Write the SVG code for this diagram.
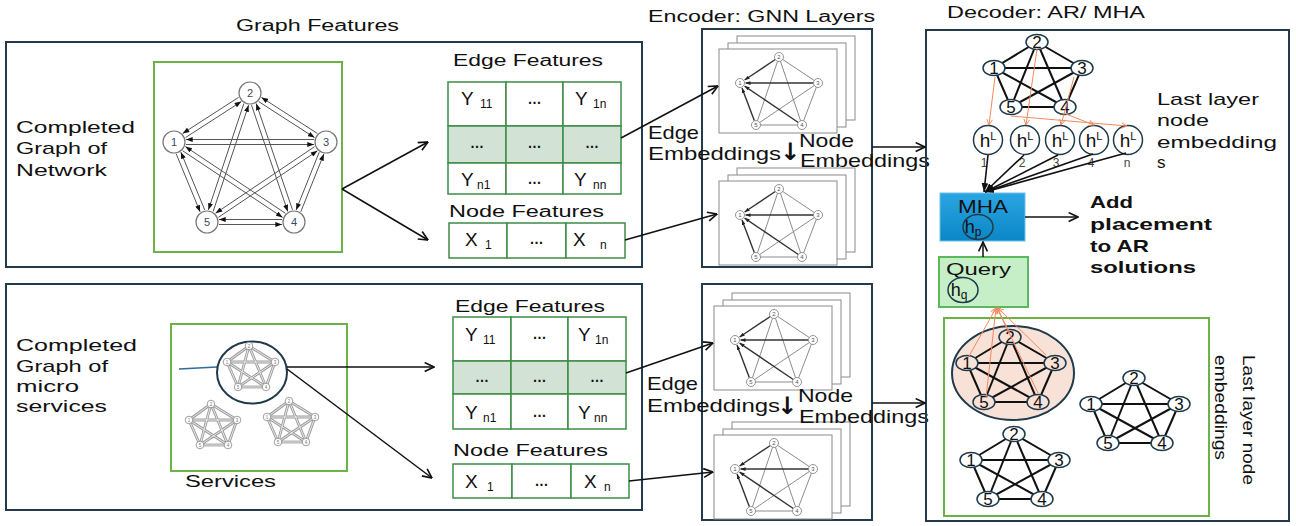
<svg xmlns="http://www.w3.org/2000/svg" width="1296" height="526" viewBox="0 0 1296 526">
<style>
text{font-family:"Liberation Sans",Arial,sans-serif;fill:#111}
.t16{font-size:16px}
.t17{font-size:17px}
.t18{font-size:18.5px}
.b17{font-size:17px;font-weight:bold}
.cell{font-size:19px}
.sub{font-size:12px}
.dots{font-size:14px;font-weight:bold}
.num{font-size:11px;fill:#3b4a68}
.dn{font-size:17px;text-anchor:middle;fill:#111}
.pn{font-size:6px;text-anchor:middle;fill:#555}
.sn{font-size:4.5px;text-anchor:middle;fill:#777}
.hs{font-size:12px;fill:#444;text-anchor:middle}
.darr{font-family:"DejaVu Sans",sans-serif;font-size:24px;font-weight:bold;fill:#111}
.panel{fill:none;stroke:#223a4b;stroke-width:2}
.gbox{fill:none;stroke:#6ab344;stroke-width:2}
.tc{fill:#fff;stroke:#3d8c45;stroke-width:1.5}
.ts{fill:#d2e3d5;stroke:#3d8c45;stroke-width:1.5}
.pg{fill:#fff;stroke:#8a8a8a;stroke-width:1}
.arr{fill:none;stroke:#111;stroke-width:1.5;marker-end:url(#ah)}
.ge{stroke:#555;stroke-width:1;marker-end:url(#ahs)}
.og{fill:none;stroke:#f08a5d;stroke-width:1;marker-end:url(#aho)}
.blk{stroke:#111;stroke-width:1.6;marker-end:url(#ahf)}
.hc{fill:#fff;stroke:#1f3a4a;stroke-width:1.5}
</style>
<defs>
<marker id="ah" viewBox="0 0 10 10" refX="9.5" refY="5" markerWidth="11" markerHeight="11" markerUnits="userSpaceOnUse" orient="auto"><path d="M1,1 L9.5,5 L1,9" fill="none" stroke="#111" stroke-width="1.5"/></marker>
<marker id="ahs" viewBox="0 0 8 6" refX="8" refY="3" markerWidth="7" markerHeight="5" markerUnits="userSpaceOnUse" orient="auto"><path d="M0,0 L8,3 L0,6z" fill="#111"/></marker>
<marker id="ahf" viewBox="0 0 8 6" refX="8" refY="3" markerWidth="9" markerHeight="7" markerUnits="userSpaceOnUse" orient="auto"><path d="M0,0 L8,3 L0,6z" fill="#111"/></marker>
<marker id="ahe" viewBox="0 0 8 6" refX="8" refY="3" markerWidth="5" markerHeight="4" markerUnits="userSpaceOnUse" orient="auto"><path d="M0,0 L8,3 L0,6z" fill="#222"/></marker>
<marker id="aho" viewBox="0 0 10 10" refX="9" refY="5" markerWidth="7" markerHeight="7" markerUnits="userSpaceOnUse" orient="auto"><path d="M1,1 L9,5 L1,9" fill="none" stroke="#f08a5d" stroke-width="1.3"/></marker>
<linearGradient id="mhaG" x1="0" y1="0" x2="0" y2="1"><stop offset="0" stop-color="#2ba6e2"/><stop offset="1" stop-color="#0b86c6"/></linearGradient>

<g id="pg">
<rect x="18" y="-13" width="118" height="84" class="pg"/>
<rect x="9" y="-6" width="118" height="84" class="pg"/>
<rect x="0" y="0" width="118" height="84" class="pg"/>
<g stroke="#8c8c8c" stroke-width="1">
<line x1="60" y1="8" x2="99" y2="34"/><line x1="60" y1="8" x2="83" y2="76"/><line x1="60" y1="8" x2="37" y2="76"/>
<line x1="99" y1="34" x2="83" y2="76"/><line x1="99" y1="34" x2="37" y2="76"/><line x1="37" y1="76" x2="83" y2="76"/>
</g>
<g stroke="#333" stroke-width="1.4" marker-end="url(#ahe)">
<line x1="94.5" y1="34" x2="26.5" y2="34"/><line x1="79.3" y1="73.5" x2="25.6" y2="37.1"/>
<line x1="35.4" y1="71.8" x2="23" y2="39.1"/><line x1="56.3" y1="10.5" x2="25.6" y2="31"/>
</g>
<g fill="#fff" stroke="#888" stroke-width="0.9">
<circle cx="60" cy="8" r="4.5"/><circle cx="21" cy="34" r="4.5"/><circle cx="99" cy="34" r="4.5"/><circle cx="37" cy="76" r="4.5"/><circle cx="83" cy="76" r="4.5"/>
</g>
<text class="pn" x="60" y="10">2</text><text class="pn" x="21" y="36">1</text><text class="pn" x="99" y="36">3</text><text class="pn" x="37" y="78">5</text><text class="pn" x="83" y="78">4</text>
</g>

<g id="sg">
<g stroke="#9c9c9c" stroke-width="2.8">
<line x1="0" y1="0" x2="-22" y2="16"/><line x1="0" y1="0" x2="26" y2="16"/><line x1="0" y1="0" x2="-11" y2="41"/><line x1="0" y1="0" x2="17" y2="41"/>
<line x1="-22" y1="16" x2="26" y2="16"/><line x1="-22" y1="16" x2="-11" y2="41"/><line x1="-22" y1="16" x2="17" y2="41"/>
<line x1="26" y1="16" x2="-11" y2="41"/><line x1="26" y1="16" x2="17" y2="41"/><line x1="-11" y1="41" x2="17" y2="41"/>
</g>
<g stroke="#f2f2f2" stroke-width="0.9">
<line x1="0" y1="0" x2="-22" y2="16"/><line x1="0" y1="0" x2="26" y2="16"/><line x1="0" y1="0" x2="-11" y2="41"/><line x1="0" y1="0" x2="17" y2="41"/>
<line x1="-22" y1="16" x2="26" y2="16"/><line x1="-22" y1="16" x2="-11" y2="41"/><line x1="-22" y1="16" x2="17" y2="41"/>
<line x1="26" y1="16" x2="-11" y2="41"/><line x1="26" y1="16" x2="17" y2="41"/><line x1="-11" y1="41" x2="17" y2="41"/>
</g>
<g fill="#fff" stroke="#888" stroke-width="0.8">
<circle cx="0" cy="0" r="3.8"/><circle cx="-22" cy="16" r="3.8"/><circle cx="26" cy="16" r="3.8"/><circle cx="-11" cy="41" r="3.8"/><circle cx="17" cy="41" r="3.8"/>
</g>
<text class="sn" x="0" y="1.6">2</text><text class="sn" x="-22" y="17.6">1</text><text class="sn" x="26" y="17.6">3</text><text class="sn" x="-11" y="42.6">5</text><text class="sn" x="17" y="42.6">4</text>
</g>

<g id="dg">
<g stroke="#111" stroke-width="2">
<line x1="-43" y1="26" x2="0" y2="0"/><line x1="-43" y1="26" x2="45" y2="26"/><line x1="-43" y1="26" x2="28" y2="65"/><line x1="-43" y1="26" x2="-26" y2="65"/>
<line x1="0" y1="0" x2="45" y2="26"/><line x1="0" y1="0" x2="28" y2="65"/><line x1="0" y1="0" x2="-26" y2="65"/>
<line x1="45" y1="26" x2="28" y2="65"/><line x1="45" y1="26" x2="-26" y2="65"/><line x1="28" y1="65" x2="-26" y2="65"/>
</g>
<g stroke="#1f3a4a" stroke-width="1.5">
<ellipse cx="0" cy="0" rx="11" ry="7.5"/><ellipse cx="-43" cy="26" rx="11" ry="7.5"/><ellipse cx="45" cy="26" rx="11" ry="7.5"/><ellipse cx="-26" cy="65" rx="11" ry="7.5"/><ellipse cx="28" cy="65" rx="11" ry="7.5"/>
</g>
<text class="dn" x="0" y="6">2</text><text class="dn" x="-43" y="32">1</text><text class="dn" x="45" y="32">3</text><text class="dn" x="-26" y="71">5</text><text class="dn" x="28" y="71">4</text>
</g>
</defs>

<rect width="1296" height="526" fill="#fff"/>

<!-- titles -->
<text class="t16" x="236" y="31" textLength="163" lengthAdjust="spacingAndGlyphs">Graph Features</text>
<text class="t16" x="648" y="22" textLength="227" lengthAdjust="spacingAndGlyphs">Encoder: GNN Layers</text>
<text class="t17" x="947" y="18" textLength="198" lengthAdjust="spacingAndGlyphs">Decoder: AR/ MHA</text>

<!-- top-left panel: network graph -->
<g id="network-panel">
<rect class="panel" x="6" y="42" width="636" height="225"/>
<text class="t17" x="16" y="133" textLength="119" lengthAdjust="spacingAndGlyphs">Completed</text>
<text class="t17" x="16" y="154" textLength="91" lengthAdjust="spacingAndGlyphs">Graph of</text>
<text class="t17" x="16" y="176" textLength="91" lengthAdjust="spacingAndGlyphs">Network</text>
</g>
<g id="network-graph">
<rect class="gbox" x="154" y="62" width="188" height="190"/>
<g>
<line class="ge" x1="185.44" y1="137.6" x2="241.28" y2="101.6"/><line class="ge" x1="238.56" y1="97.4" x2="182.72" y2="133.4"/>
<line class="ge" x1="186" y1="144.5" x2="314" y2="144.5"/><line class="ge" x1="314" y1="139.5" x2="186" y2="139.5"/>
<line class="ge" x1="182.6" y1="150.74" x2="282.63" y2="217.42"/><line class="ge" x1="285.4" y1="213.26" x2="185.37" y2="146.58"/>
<line class="ge" x1="176.27" y1="154.05" x2="200.11" y2="211.86"/><line class="ge" x1="204.74" y1="209.95" x2="180.89" y2="152.14"/>
<line class="ge" x1="258.72" y1="101.6" x2="314.56" y2="137.6"/><line class="ge" x1="317.28" y1="133.4" x2="261.44" y2="97.4"/>
<line class="ge" x1="251.51" y1="105.16" x2="287.76" y2="211.45"/><line class="ge" x1="292.49" y1="209.84" x2="256.24" y2="103.55"/>
<line class="ge" x1="243.83" y1="103.59" x2="208.42" y2="209.83"/><line class="ge" x1="213.17" y1="211.41" x2="248.58" y2="105.18"/>
<line class="ge" x1="319.22" y1="152.21" x2="296.14" y2="209.93"/><line class="ge" x1="300.78" y1="211.79" x2="323.86" y2="154.07"/>
<line class="ge" x1="314.65" y1="146.62" x2="215.56" y2="213.23"/><line class="ge" x1="218.35" y1="217.38" x2="317.44" y2="150.77"/>
<line class="ge" x1="282" y1="219.5" x2="219" y2="219.5"/><line class="ge" x1="219" y1="224.5" x2="282" y2="224.5"/>
</g>
<g fill="#fff" stroke="#777" stroke-width="1.2">
<circle cx="250" cy="93" r="11"/><circle cx="174" cy="142" r="11"/><circle cx="326" cy="142" r="11"/><circle cx="207" cy="222" r="11"/><circle cx="294" cy="222" r="11"/>
</g>
<text class="num" x="250" y="97" text-anchor="middle">2</text><text class="num" x="174" y="146" text-anchor="middle">1</text><text class="num" x="326" y="146" text-anchor="middle">3</text><text class="num" x="207" y="226" text-anchor="middle">5</text><text class="num" x="294" y="226" text-anchor="middle">4</text>
</g>

<!-- top tables -->
<g id="edge-features-top">
<text class="t16" x="453" y="66" textLength="150" lengthAdjust="spacingAndGlyphs">Edge Features</text>
<rect class="tc" x="448" y="82" width="58" height="44"/><rect class="tc" x="506" y="82" width="57" height="44"/><rect class="tc" x="563" y="82" width="58" height="44"/>
<rect class="ts" x="448" y="126" width="58" height="37"/><rect class="ts" x="506" y="126" width="57" height="37"/><rect class="ts" x="563" y="126" width="58" height="37"/>
<rect class="tc" x="448" y="163" width="58" height="31"/><rect class="tc" x="506" y="163" width="57" height="31"/><rect class="tc" x="563" y="163" width="58" height="31"/>
<text class="cell" y="105"><tspan x="461">Y</tspan><tspan class="sub" x="480" dy="3">11</tspan></text>
<text class="dots" x="534.5" y="104" text-anchor="middle">…</text>
<text class="cell" y="105"><tspan x="575">Y</tspan><tspan class="sub" x="593" dy="3">1n</tspan></text>
<text class="dots" x="477" y="148" text-anchor="middle">…</text><text class="dots" x="534.5" y="148" text-anchor="middle">…</text><text class="dots" x="592" y="148" text-anchor="middle">…</text>
<text class="cell" y="186"><tspan x="461">Y</tspan><tspan class="sub" x="477" dy="3">n1</tspan></text>
<text class="dots" x="534.5" y="184" text-anchor="middle">…</text>
<text class="cell" y="186"><tspan x="574">Y</tspan><tspan class="sub" x="593" dy="3">nn</tspan></text>
</g>
<g id="node-features-top">
<text class="t16" x="449" y="217" textLength="155" lengthAdjust="spacingAndGlyphs">Node Features</text>
<rect class="tc" x="449" y="223" width="58" height="35"/><rect class="tc" x="507" y="223" width="59" height="35"/><rect class="tc" x="566" y="223" width="59" height="35"/>
<text class="cell" y="246"><tspan x="465">X</tspan><tspan class="sub" x="485" dy="3">1</tspan></text>
<text class="dots" x="536.5" y="244" text-anchor="middle">…</text>
<text class="cell" y="246"><tspan x="573">X</tspan><tspan class="sub" x="600" dy="3">n</tspan></text>
</g>

<!-- bottom-left panel: micro services -->
<g id="services-panel">
<rect class="panel" x="6" y="284" width="636" height="226"/>
<text class="t17" x="16" y="351" textLength="121" lengthAdjust="spacingAndGlyphs">Completed</text>
<text class="t17" x="16" y="372" textLength="92" lengthAdjust="spacingAndGlyphs">Graph of</text>
<text class="t17" x="16" y="392" textLength="63" lengthAdjust="spacingAndGlyphs">micro</text>
<text class="t17" x="16" y="412" textLength="91" lengthAdjust="spacingAndGlyphs">services</text>
</g>
<g id="services-box">
<rect class="gbox" x="171" y="324" width="176" height="147"/>
<text class="t16" x="185" y="487" textLength="91" lengthAdjust="spacingAndGlyphs">Services</text>
<line x1="179" y1="369" x2="217" y2="367" stroke="#2e6e99" stroke-width="1.5"/>
<ellipse cx="252" cy="372.5" rx="35" ry="31" fill="#fff" stroke="#1f3a4a" stroke-width="2"/>
<use href="#sg" x="249" y="346"/>
<use href="#sg" x="211" y="404"/>
<use href="#sg" x="289" y="401"/>
</g>

<!-- bottom tables -->
<g id="edge-features-bottom">
<text class="t16" x="455" y="312" textLength="150" lengthAdjust="spacingAndGlyphs">Edge Features</text>
<rect class="tc" x="453" y="317" width="58" height="44"/><rect class="tc" x="511" y="317" width="57" height="44"/><rect class="tc" x="568" y="317" width="58" height="44"/>
<rect class="ts" x="453" y="361" width="58" height="33"/><rect class="ts" x="511" y="361" width="57" height="33"/><rect class="ts" x="568" y="361" width="58" height="33"/>
<rect class="tc" x="453" y="394" width="58" height="35"/><rect class="tc" x="511" y="394" width="57" height="35"/><rect class="tc" x="568" y="394" width="58" height="35"/>
<text class="cell" y="341"><tspan x="465">Y</tspan><tspan class="sub" x="483" dy="3">11</tspan></text>
<text class="dots" x="539.5" y="339" text-anchor="middle">…</text>
<text class="cell" y="341"><tspan x="578">Y</tspan><tspan class="sub" x="595" dy="3">1n</tspan></text>
<text class="dots" x="482" y="382" text-anchor="middle">…</text><text class="dots" x="539.5" y="382" text-anchor="middle">…</text><text class="dots" x="597" y="382" text-anchor="middle">…</text>
<text class="cell" y="419"><tspan x="465">Y</tspan><tspan class="sub" x="483" dy="3">n1</tspan></text>
<text class="dots" x="539.5" y="417" text-anchor="middle">…</text>
<text class="cell" y="419"><tspan x="578">Y</tspan><tspan class="sub" x="594" dy="3">nn</tspan></text>
</g>
<g id="node-features-bottom">
<text class="t16" x="453" y="456" textLength="155" lengthAdjust="spacingAndGlyphs">Node Features</text>
<rect class="tc" x="453" y="464" width="59" height="34"/><rect class="tc" x="512" y="464" width="59" height="34"/><rect class="tc" x="571" y="464" width="58" height="34"/>
<text class="cell" y="488"><tspan x="465">X</tspan><tspan class="sub" x="487" dy="3">1</tspan></text>
<text class="dots" x="541.5" y="486" text-anchor="middle">…</text>
<text class="cell" y="488"><tspan x="584">X</tspan><tspan class="sub" x="604" dy="3">n</tspan></text>
</g>

<!-- encoders -->
<g id="encoder-top">
<rect class="panel" x="702" y="29" width="170" height="238"/>
<use href="#pg" x="719" y="49"/>
<use href="#pg" x="719" y="181"/>
</g>
<g id="encoder-bottom">
<rect class="panel" x="702" y="284" width="170" height="236"/>
<use href="#pg" x="714" y="306"/>
<use href="#pg" x="714" y="435"/>
</g>
<g id="embedding-labels">
<text class="t18" x="648" y="139" textLength="51" lengthAdjust="spacingAndGlyphs">Edge</text>
<text class="t18" x="648" y="160" textLength="133" lengthAdjust="spacingAndGlyphs">Embeddings</text>
<text class="darr" x="780" y="160">↓</text>
<text class="t18" x="799" y="147" textLength="55" lengthAdjust="spacingAndGlyphs">Node</text>
<text class="t18" x="800" y="167" textLength="130" lengthAdjust="spacingAndGlyphs">Embeddings</text>
<text class="t18" x="647" y="390" textLength="51" lengthAdjust="spacingAndGlyphs">Edge</text>
<text class="t18" x="647" y="412" textLength="133" lengthAdjust="spacingAndGlyphs">Embeddings</text>
<text class="darr" x="777" y="414">↓</text>
<text class="t18" x="798" y="402" textLength="55" lengthAdjust="spacingAndGlyphs">Node</text>
<text class="t18" x="799" y="423" textLength="130" lengthAdjust="spacingAndGlyphs">Embeddings</text>
</g>

<!-- decoder -->
<g id="decoder">
<rect class="panel" x="926" y="30" width="363" height="491"/>
</g>
<g id="decoder-graph-top"><use href="#dg" x="1037" y="42" fill="#fff"/></g>
<g id="hl-nodes">
<circle class="hc" cx="988" cy="140" r="14.5"/><circle class="hc" cx="1025" cy="140" r="14.5"/><circle class="hc" cx="1060" cy="140" r="14.5"/><circle class="hc" cx="1094" cy="140" r="14.5"/><circle class="hc" cx="1128" cy="140" r="14.5"/>
<text x="988" y="147" font-size="19" text-anchor="middle">h<tspan font-size="11" dy="-7">L</tspan></text>
<text x="1025" y="147" font-size="19" text-anchor="middle">h<tspan font-size="11" dy="-7">L</tspan></text>
<text x="1060" y="147" font-size="19" text-anchor="middle">h<tspan font-size="11" dy="-7">L</tspan></text>
<text x="1094" y="147" font-size="19" text-anchor="middle">h<tspan font-size="11" dy="-7">L</tspan></text>
<text x="1128" y="147" font-size="19" text-anchor="middle">h<tspan font-size="11" dy="-7">L</tspan></text>
<text class="hs" x="984" y="167">1</text><text class="hs" x="1022" y="167">2</text><text class="hs" x="1056" y="167">3</text><text class="hs" x="1091" y="167">4</text><text class="hs" x="1127" y="167">n</text>
</g>
<g id="last-layer-label">
<text class="t17" x="1157" y="105" textLength="102" lengthAdjust="spacingAndGlyphs">Last layer</text>
<text class="t17" x="1157" y="126" textLength="52" lengthAdjust="spacingAndGlyphs">node</text>
<text class="t17" x="1157" y="148" textLength="120" lengthAdjust="spacingAndGlyphs">embedding</text>
<text class="t17" x="1157" y="168">s</text>
</g>
<g id="mha">
<rect x="940" y="193" width="85" height="48" fill="url(#mhaG)" stroke="#6cc0ec" stroke-width="1"/>
<text class="t18" x="983" y="213" text-anchor="middle" textLength="50" lengthAdjust="spacingAndGlyphs">MHA</text>
<ellipse cx="978" cy="227" rx="15" ry="12.5" fill="none" stroke="#1f3a4a" stroke-width="1.5"/>
<text x="973" y="233" font-size="18" text-anchor="middle">h<tspan font-size="12" dy="3">p</tspan></text>
</g>
<g id="query">
<rect x="939" y="257" width="89" height="50" fill="#c6efc8" stroke="#5cb85c" stroke-width="2"/>
<text class="t17" x="946" y="275" textLength="65" lengthAdjust="spacingAndGlyphs">Query</text>
<ellipse cx="963" cy="290" rx="15" ry="12.5" fill="none" stroke="#1f3a4a" stroke-width="1.5"/>
<text x="959" y="296" font-size="18" text-anchor="middle">h<tspan font-size="12" dy="3">q</tspan></text>
</g>
<g id="add-placement">
<text class="b17" x="1090" y="208" textLength="43" lengthAdjust="spacingAndGlyphs">Add</text>
<text class="b17" x="1090" y="230" textLength="122" lengthAdjust="spacingAndGlyphs">placement</text>
<text class="b17" x="1090" y="252" textLength="59" lengthAdjust="spacingAndGlyphs">to AR</text>
<text class="b17" x="1090" y="273" textLength="106" lengthAdjust="spacingAndGlyphs">solutions</text>
</g>
<g id="last-layer-box">
<rect class="gbox" x="944" y="318" width="265" height="198"/>
<ellipse cx="1013" cy="373" rx="61" ry="47" fill="#f8e1d7" stroke="#1f3a4a" stroke-width="2"/>
<use href="#dg" x="1010" y="337" fill="#f8e1d7"/>
<use href="#dg" x="1134" y="378" fill="#fff"/>
<use href="#dg" x="1014" y="434" fill="#fff"/>
<g transform="translate(1243,355) rotate(90)">
<text class="t17" x="0" y="0" textLength="130" lengthAdjust="spacingAndGlyphs">Last layer node</text>
<text class="t17" x="0" y="28.5" textLength="105" lengthAdjust="spacingAndGlyphs">embeddings</text>
</g>
</g>

<!-- connectors -->
<g id="connectors">
<line class="arr" x1="342" y1="189" x2="428" y2="142"/>
<line class="arr" x1="342" y1="189" x2="428" y2="240"/>
<line class="arr" x1="621" y1="138" x2="718" y2="86"/>
<line class="arr" x1="625" y1="240" x2="717" y2="214"/>
<line class="arr" x1="287" y1="367" x2="434" y2="367"/>
<line class="arr" x1="287" y1="369" x2="432" y2="478"/>
<line class="arr" x1="626" y1="373" x2="713" y2="343"/>
<line class="arr" x1="629" y1="481" x2="713" y2="472"/>
<line class="arr" x1="872" y1="147" x2="925" y2="147"/>
<line class="arr" x1="872" y1="403" x2="925" y2="403"/>
<line class="og" x1="995" y1="77" x2="989" y2="125"/>
<line class="og" x1="1037" y1="49" x2="1026" y2="125"/>
<line class="og" x1="1074" y1="77" x2="1061" y2="125"/>
<line class="og" x1="1066" y1="114" x2="1094" y2="125"/>
<line class="og" x1="1011" y1="116" x2="1127" y2="126"/>
<line class="blk" x1="988" y1="155" x2="984" y2="192"/>
<line class="blk" x1="1024" y1="155" x2="985" y2="192"/>
<line class="blk" x1="1058" y1="155" x2="985" y2="192"/>
<line class="blk" x1="1093" y1="154" x2="985" y2="192"/>
<line class="blk" x1="1126" y1="153" x2="985" y2="192"/>
<line class="arr" x1="983" y1="257" x2="983" y2="242"/>
<line class="arr" x1="1025" y1="217" x2="1078" y2="217"/>
<line class="og" x1="968" y1="358" x2="996" y2="308"/>
<line class="og" x1="986" y1="398" x2="996" y2="308"/>
<line class="og" x1="1010" y1="333" x2="997" y2="308"/>
<line class="og" x1="1046" y1="355" x2="998" y2="308"/>
<line class="og" x1="1038" y1="393" x2="997" y2="308"/>
</g>
</svg>
